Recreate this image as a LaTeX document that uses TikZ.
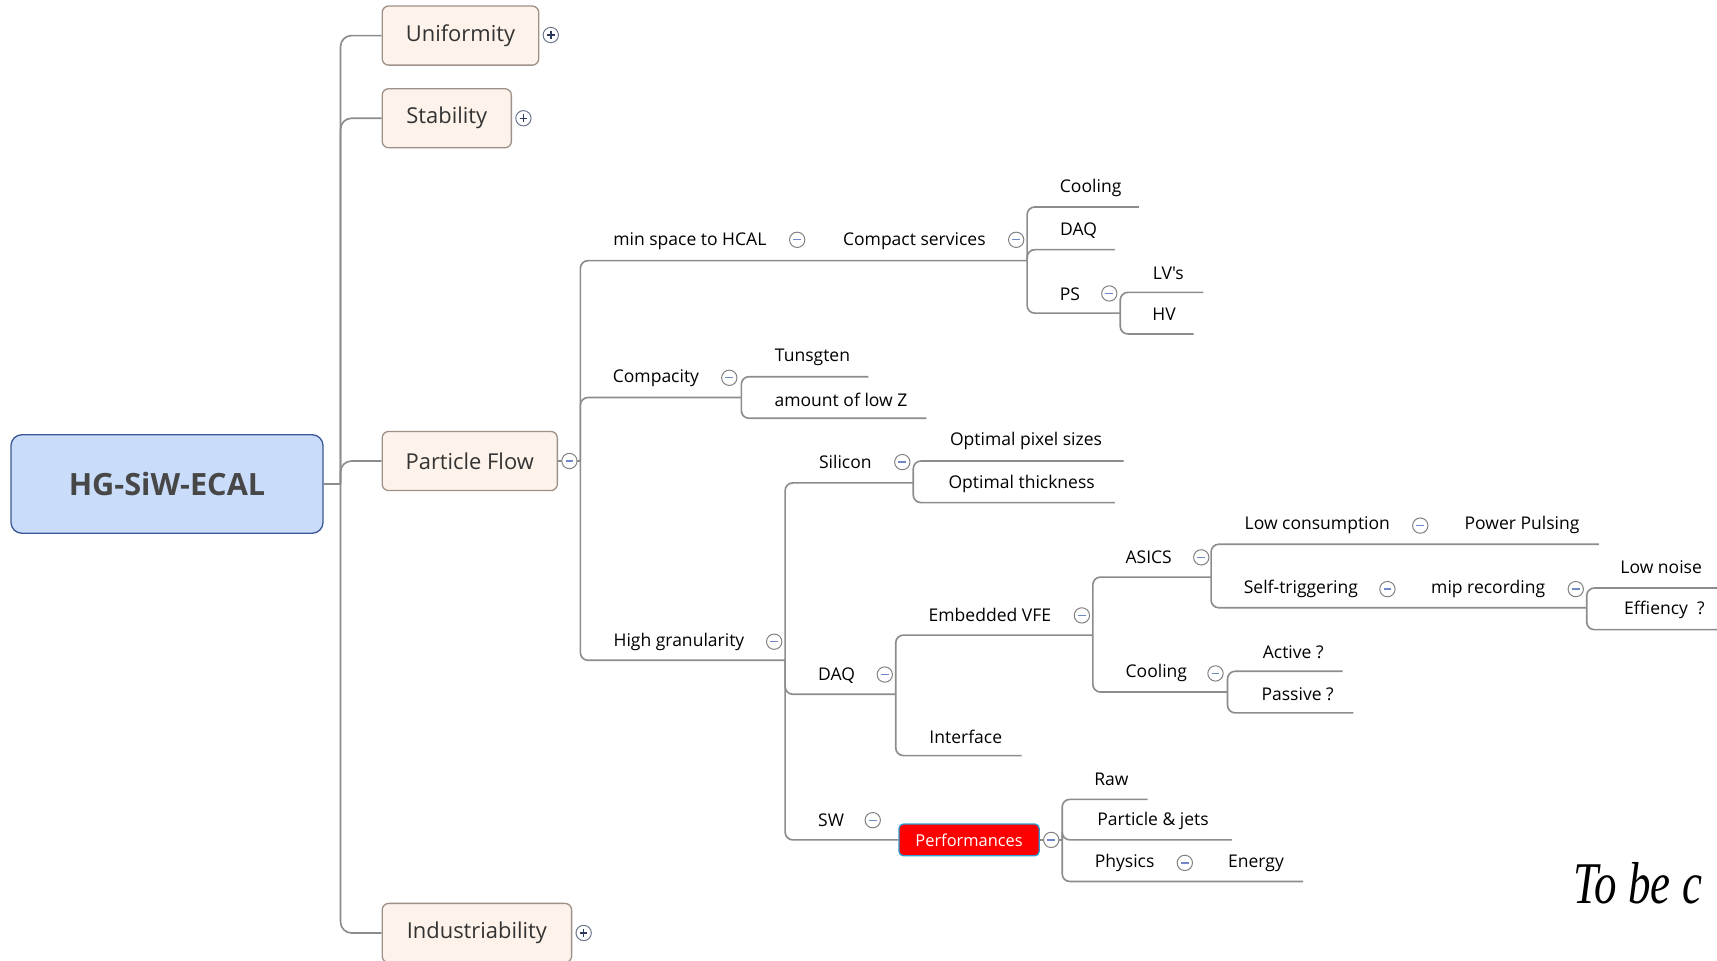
\documentclass[tikz,border=0pt]{standalone}
\usepackage{fontspec}
\usepackage{graphicx}
\newfontfamily\mapfont{Open Sans}
\newfontfamily\notefont{Liberation Serif}

\definecolor{linegray}{HTML}{8C8C8C}
\definecolor{rootfill}{HTML}{C9DCF9}
\definecolor{rootdraw}{HTML}{3C5894}
\definecolor{mainfill}{HTML}{FDF3EA}
\definecolor{maindraw}{HTML}{9E918A}
\definecolor{textgray}{HTML}{333333}
\definecolor{iconblue}{HTML}{7088C8}
\definecolor{iconnavy}{HTML}{2B3A5C}
\definecolor{perfdraw}{HTML}{2F9BD3}

\tikzset{
  root/.style={draw=rootdraw, fill=rootfill, line width=1.2pt, rounded corners=10pt,
    minimum width=285, minimum height=90, text=textgray!90,
    font=\mapfont\bfseries\fontsize{28}{32}\selectfont},
  main/.style={draw=maindraw, fill=mainfill, line width=1.2pt, rounded corners=6pt,
    minimum height=54, text=textgray, font=\mapfont\fontsize{20}{24}\selectfont},
  topic/.style={inner sep=0, text height=12, text depth=4, text=black,
    font=\mapfont\fontsize{16}{19}\selectfont},
  hot/.style={draw=perfdraw, fill=red, text=white, line width=1.2pt, rounded corners=4pt,
    minimum width=128, minimum height=29, inner sep=0, font=\mapfont\fontsize{15}{18}\selectfont},
  line/.style={draw=linegray, line width=1.5pt, rounded corners=7pt},
  fold/.style={circle, draw=gray, fill=white, line width=0.9pt, minimum size=14, inner sep=0},
  collapse/.style={fold, path picture={\draw[iconblue, line width=1.2pt]
    ([xshift=-3.5pt]path picture bounding box.center) -- ([xshift=3.5pt]path picture bounding box.center);}},
  expand/.style={fold, draw=iconnavy!70, path picture={\draw[iconnavy, line width=1.3pt]
    ([xshift=-3.5pt]path picture bounding box.center) -- ([xshift=3.5pt]path picture bounding box.center)
    ([yshift=-3.5pt]path picture bounding box.center) -- ([yshift=3.5pt]path picture bounding box.center);}},
}

\begin{document}
\begin{tikzpicture}[x=1pt, y=-1pt]
  \useasboundingbox (0,0) rectangle (1568,877);
  \clip (0,0) rectangle (1568,877);

  % central topic and main topics
  \node[root] (hg) at (152.5,442) {HG-SiW-ECAL};
  \node[main, minimum width=143] (unif) at (420.5,32.5) {Uniformity};
  \node[main, minimum width=118] (stab) at (408,108) {Stability};
  \node[main, minimum width=160] (pf) at (429,421) {Particle Flow};
  \node[main, minimum width=173] (ind) at (435.5,852) {Industriability};

  % Particle Flow subtopics
  \node[topic] (msh) at (630,220) {min space to HCAL};
  \node[topic] (cs) at (835,220) {Compact services};
  \node[topic] (cool1) at (996,172) {Cooling};
  \node[topic] (daq1) at (985,211) {DAQ};
  \node[topic] (ps) at (977,270) {PS};
  \node[topic] (lv) at (1067,251) {LV's};
  \node[topic] (hv) at (1063,289) {HV};
  \node[topic] (cpy) at (599,345) {Compacity};
  \node[topic] (tung) at (742,326) {Tunsgten};
  \node[topic] (lowz) at (768,367) {amount of low Z};
  \node[topic] (hgr) at (620,586) {High granularity};
  \node[topic] (si) at (772,424) {Silicon};
  \node[topic] (ops) at (937,403) {Optimal pixel sizes};
  \node[topic] (opt) at (933,442) {Optimal thickness};
  \node[topic] (daq) at (764,617) {DAQ};
  \node[topic] (vfe) at (904,564) {Embedded VFE};
  \node[topic] (asics) at (1049,511) {ASICS};
  \node[topic] (lowc) at (1203,480) {Low consumption};
  \node[topic] (pp) at (1390,480) {Power Pulsing};
  \node[topic] (self) at (1188,538) {Self-triggering};
  \node[topic] (mip) at (1359,538) {mip recording};
  \node[topic] (ln) at (1517,520) {Low noise};
  \node[topic] (eff) at (1520,557) {Effiency\ \ ?};
  \node[topic] (cool2) at (1056,615) {Cooling};
  \node[topic] (act) at (1181,597) {Active ?};
  \node[topic] (pas) at (1185,636) {Passive ?};
  \node[topic] (intf) at (882,675) {Interface};
  \node[topic] (sw) at (759,751) {SW};
  \node[hot] (perf) at (885,767) {Performances};
  \node[topic] (raw) at (1015,713) {Raw};
  \node[topic] (pj) at (1053,750) {Particle \& jets};
  \node[topic] (phy) at (1027,788) {Physics};
  \node[topic] (en) at (1147,788) {Energy};

  % junctions and line ends
  \coordinate (root-j) at (311,442);
  \coordinate (pf-j) at (530,421);
  \coordinate (cs-j) at (938,238);
  \coordinate (ps-j) at (1023,286);
  \coordinate (cpy-j) at (677,363);
  \coordinate (hgr-j) at (717,603);
  \coordinate (si-j) at (834,441);
  \coordinate (daq-j) at (818,634);
  \coordinate (vfe-j) at (998,580);
  \coordinate (asics-j) at (1106,527);
  \coordinate (mip-j) at (1449,555);
  \coordinate (cool2-j) at (1121,632);
  \coordinate (perf-j) at (970,767);
  \coordinate (cool1-e) at (1040,189);
  \coordinate (daq1-e) at (1018,228);
  \coordinate (lv-e) at (1099,267);
  \coordinate (hv-e) at (1090,305);
  \coordinate (tung-e) at (793,344);
  \coordinate (lowz-e) at (846,382);
  \coordinate (ops-e) at (1026,421);
  \coordinate (opt-e) at (1018,459);
  \coordinate (pp-e) at (1460,497);
  \coordinate (ln-e) at (1590,537);
  \coordinate (eff-e) at (1590,575);
  \coordinate (act-e) at (1226,613);
  \coordinate (pas-e) at (1236,651);
  \coordinate (intf-e) at (933,690);
  \coordinate (raw-e) at (1048,730);
  \coordinate (pj-e) at (1125,767);
  \coordinate (en-e) at (1190,805);

  % connectors
  \draw[line] (hg.east) -- (root-j);
  \foreach \to in {unif, stab, pf, ind}
    \draw[line, rounded corners=10pt] (root-j) |- (\to.west);
  \draw[line] (pf.east) -- (pf-j);
  \draw[line] (perf.east) -- (perf-j);
  \draw[line] (hgr-j) |- (perf.west);
  \foreach \from/\to in {pf-j/cs-j, pf-j/cpy-j, pf-j/hgr-j, cs-j/cool1-e, cs-j/daq1-e, cs-j/ps-j,
      ps-j/lv-e, ps-j/hv-e, cpy-j/tung-e, cpy-j/lowz-e, hgr-j/si-j, hgr-j/daq-j,
      si-j/ops-e, si-j/opt-e, daq-j/vfe-j, daq-j/intf-e, vfe-j/asics-j, vfe-j/cool2-j,
      asics-j/pp-e, asics-j/mip-j, mip-j/ln-e, mip-j/eff-e, cool2-j/act-e, cool2-j/pas-e,
      perf-j/raw-e, perf-j/pj-e, perf-j/en-e}
    \draw[line] (\from) |- (\to);

  % fold markers
  \node[expand] (unif-x) at (503,32) {};
  \node[expand] (stab-x) at (478,108) {};
  \node[expand] (ind-x) at (533,852) {};
  \node[collapse] (pf-x) at (520,421) {};
  \node[collapse] (msh-x) at (728,219) {};
  \node[collapse] (cs-x) at (928,219) {};
  \node[collapse] (ps-x) at (1013,268) {};
  \node[collapse] (cpy-x) at (666,345) {};
  \node[collapse] (hgr-x) at (707,586) {};
  \node[collapse] (si-x) at (824,422) {};
  \node[collapse] (daq-x) at (808,616) {};
  \node[collapse] (vfe-x) at (988,562) {};
  \node[collapse] (asics-x) at (1097,509) {};
  \node[collapse] (lowc-x) at (1297,480) {};
  \node[collapse] (self-x) at (1267,538) {};
  \node[collapse] (mip-x) at (1439,538) {};
  \node[collapse] (cool2-x) at (1110,615) {};
  \node[collapse] (sw-x) at (797,749) {};
  \node[collapse] (perf-x) at (960,767) {};
  \node[collapse] (phy-x) at (1082,788) {};

  \node[anchor=base west, inner sep=0, font=\notefont\itshape\fontsize{54}{60}\selectfont] (cont) at (1437,825) {\scalebox{0.76}[1]{To be c}};
\end{tikzpicture}
\end{document}
